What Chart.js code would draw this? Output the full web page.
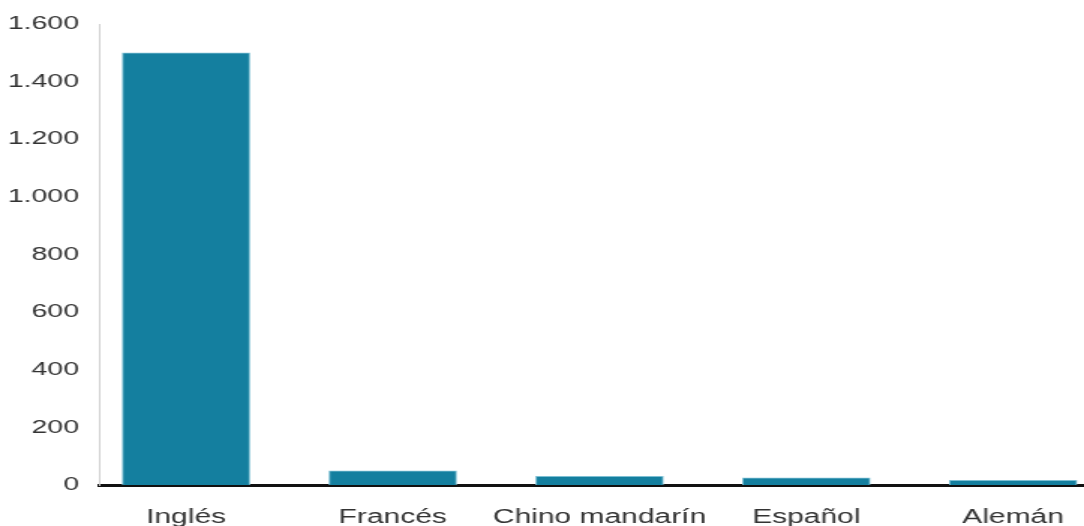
<!DOCTYPE html>
<html>
<head>
<meta charset="utf-8">
<script src="https://cdn.jsdelivr.net/npm/chart.js@4/dist/chart.umd.min.js"></script>
<style>
  html, body { margin: 0; padding: 0; background: #fff; overflow: hidden; }
</style>
</head>
<body>
<canvas id="mycanvas" width="723" height="526" style="display:block;width:1084px;height:526px;"></canvas>
<script>
// data
var languages = ["Inglés", "Francés", "Chino mandarín", "Español", "Alemán"];
var values = [1500, 49, 30, 25, 16];
var yTicks = [0, 200, 400, 600, 800, 1000, 1200, 1400, 1600];

// the reference is stretched sideways, so the canvas is drawn narrow and scaled by css
var points = [];
for (var i = 0; i < languages.length; i++) {
  points.push({x: i, y: values[i]});
}

function fmtNum(v) {
  return String(v).replace(/\B(?=(\d{3})+(?!\d))/g, ".");
}

var ctx = document.getElementById("mycanvas");
var barGraph = new Chart(ctx, {
  type: 'bar',
  data: {
    datasets: [{
      data: points,
      backgroundColor: '#147f9f',
      borderColor: '#7cbfd3',
      borderWidth: 1,
      barThickness: 85
    }]
  },
  options: {
    responsive: false,
    animation: false,
    devicePixelRatio: 1,
    layout: { padding: { top: 24, right: 0, bottom: 0, left: 0 } },
    plugins: { legend: { display: false }, tooltip: { enabled: false } },
    scales: {
      x: {
        type: 'linear',
        offset: false,
        min: -0.416,
        max: 4.343,
        grid: { display: false },
        border: { display: true, color: '#111', width: 3 },
        afterBuildTicks: function(scale) {
          scale.ticks = languages.map(function(l, i) { return {value: i}; });
        },
        afterFit: function(scale) { scale.height = 41; },
        ticks: {
          padding: 12,
          maxRotation: 0,
          autoSkip: false,
          color: '#333',
          font: { family: 'Liberation Sans', size: 20 },
          callback: function(v) { return languages[v]; }
        }
      },
      y: {
        min: 0,
        max: 1600,
        grid: { display: false },
        border: { display: true, color: '#cfcfcf', width: 1 },
        afterBuildTicks: function(scale) {
          scale.ticks = yTicks.map(function(t) { return {value: t}; });
        },
        afterFit: function(scale) { scale.width = 66.7; },
        ticks: {
          padding: 6,
          color: '#333',
          font: { family: 'Liberation Sans', size: 19 },
          callback: function(v) { return fmtNum(v); }
        }
      }
    }
  }
});
</script>
</body>
</html>
